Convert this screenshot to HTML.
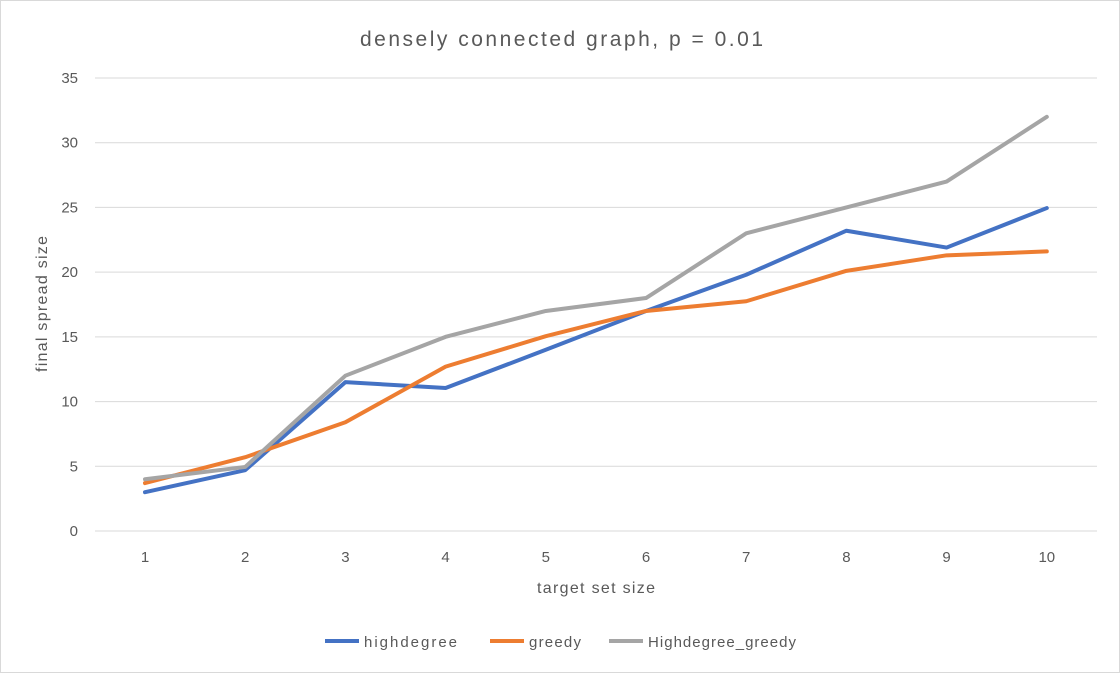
<!DOCTYPE html>
<html><head><meta charset="utf-8"><style>
html,body{margin:0;padding:0;background:#fff;}
body{width:1120px;height:673px;overflow:hidden;font-family:"Liberation Sans",sans-serif;}
</style></head><body>
<svg id="chart" width="1120" height="673" xmlns="http://www.w3.org/2000/svg">
<rect x="0.5" y="0.5" width="1119" height="672" fill="#fff" stroke="#d9d9d9"/>
<text x="360" y="46" textLength="403" lengthAdjust="spacing" font-size="21" fill="#595959">densely connected graph, p = 0.01</text>
<g id="grid"></g><g id="series"></g><g id="ticks"></g>
<text x="537" y="593" textLength="118" lengthAdjust="spacing" font-size="16" fill="#595959">target set size</text>
<text transform="translate(47,372) rotate(-90)" textLength="136" lengthAdjust="spacing" font-size="16" fill="#595959">final spread size</text>
<g id="legend"></g>
</svg>
<script>
const categories=[1,2,3,4,5,6,7,8,9,10];
const highdegree=[3,4.7,11.5,11.05,14,17,19.8,23.2,21.9,24.95];
const greedy=[3.7,5.7,8.4,12.7,15.05,17,17.75,20.1,21.3,21.6];
const highdegreeGreedy=[4,4.95,12,15,17,18,23,25,27,32];
const yTicks=[0,5,10,15,20,25,30,35];
const seriesNames=["highdegree","greedy","Highdegree_greedy"];
const colors=["#4472c4","#ed7d31","#a5a5a5"];
const NS="http://www.w3.org/2000/svg";
const x=c=>145+(c-1)*100.2;
const y=v=>531-v*(453/35);
function mk(t,a,p){const e=document.createElementNS(NS,t);for(const k in a)e.setAttribute(k,a[k]);p.appendChild(e);return e;}
const grid=document.getElementById('grid'),ticks=document.getElementById('ticks');
yTicks.forEach(v=>{
 const l=mk('line',{x1:95,x2:1097,y1:y(v),y2:y(v),stroke:'#d9d9d9','stroke-width':1},grid);
 
 
 const t=mk('text',{x:78,y:y(v)+5,'text-anchor':'end','font-size':'15',fill:'#595959'},ticks);
 t.textContent=v;
 
 
});
categories.forEach(c=>{
 const t=mk('text',{x:x(c),y:562,'text-anchor':'middle','font-size':'15',fill:'#595959'},ticks);
 t.textContent=c;
 
 
});
const sg=document.getElementById('series');
[highdegree,greedy,highdegreeGreedy].forEach((d,i)=>{
 const p=mk('polyline',{points:d.map((v,j)=>x(categories[j])+','+y(v)).join(' '),fill:'none',stroke:colors[i],'stroke-width':4,'stroke-linejoin':'round','stroke-linecap':'round'},sg);
 
 
});
const lg=document.getElementById('legend');
const lx=[325,490,609];
const lw=[93,52,148];
seriesNames.forEach((n,i)=>{
 const l=mk('line',{x1:lx[i],x2:lx[i]+34,y1:641,y2:641,stroke:colors[i],'stroke-width':4},lg);
 
 
 const t=mk('text',{x:lx[i]+39,y:647,'font-size':'15',fill:'#595959',textLength:lw[i],lengthAdjust:'spacing'},lg);
 t.textContent=n;
 
 
});
</script>
</body></html>
